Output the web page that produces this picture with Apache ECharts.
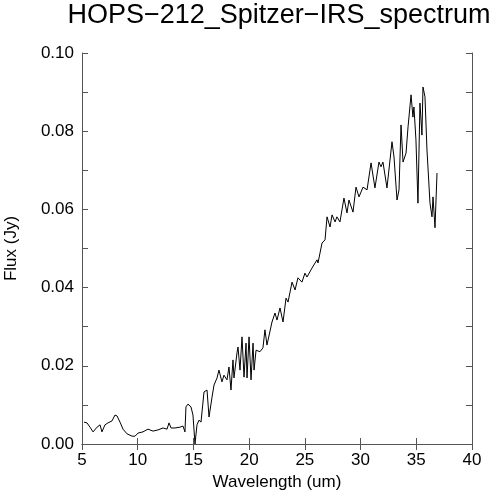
<!DOCTYPE html>
<html>
<head>
<meta charset="utf-8">
<script src="https://cdn.jsdelivr.net/npm/echarts@6/dist/echarts.min.js"></script>
<style>
  html, body { margin: 0; padding: 0; background: #fff; }
  #chart { width: 492px; height: 500px; }
</style>
</head>
<body>
<div id="chart"></div>
<script>
// spectrum: wavelength (um) and flux (Jy)
const wavelength = [
  5.18, 5.45, 5.72, 5.99, 6.35, 6.62, 6.79, 7.06, 7.33, 7.69,
  7.96, 8.14, 8.41, 8.68, 9.04, 9.49, 9.76, 10.03, 10.47, 10.92,
  11.37, 11.82, 12.27, 12.63, 12.81, 12.99, 13.35, 13.79, 14.06, 14.24,
  14.33, 14.51, 14.78, 14.96, 15.14, 15.32, 15.50, 15.68, 15.95, 16.22,
  16.40, 16.67, 16.85, 17.12, 17.29, 17.56, 17.74, 18.01, 18.19, 18.37,
  18.55, 18.64, 18.91, 19.00, 19.18, 19.36, 19.54, 19.72, 19.81, 19.99,
  20.17, 20.35, 20.44, 20.62, 20.97, 21.24, 21.42, 21.60, 22.05, 22.32,
  22.50, 22.77, 23.04, 23.31, 23.49, 23.85, 24.12, 24.38, 24.74, 25.01,
  25.19, 25.64, 26.09, 26.18, 26.54, 26.81, 26.99, 27.26, 27.44, 27.71,
  27.88, 28.15, 28.51, 28.78, 28.96, 29.32, 29.59, 29.86, 30.22, 30.58,
  30.94, 31.29, 31.65, 31.83, 32.01, 32.37, 32.82, 33.00, 33.27, 33.45,
  33.63, 33.81, 34.08, 34.26, 34.53, 34.70, 34.79, 34.97, 35.15, 35.33,
  35.51, 35.60, 35.78, 35.96, 36.23, 36.41, 36.50, 36.68, 36.86
];
const flux = [
  0.0056, 0.0054, 0.0043, 0.0031, 0.0043, 0.0049, 0.0031, 0.0049, 0.0054, 0.0059,
  0.0074, 0.0072, 0.0056, 0.0038, 0.0026, 0.0020, 0.0020, 0.0028, 0.0031, 0.0038,
  0.0033, 0.0036, 0.0041, 0.0038, 0.0054, 0.0041, 0.0041, 0.0043, 0.0046, 0.0031,
  0.0095, 0.0102, 0.0095, 0.0074, 0.0000, 0.0049, 0.0061, 0.0056, 0.0133, 0.0138,
  0.0069, 0.0120, 0.0151, 0.0169, 0.0189, 0.0159, 0.0176, 0.0164, 0.0197, 0.0138,
  0.0215, 0.0169, 0.0233, 0.0248, 0.0189, 0.0274, 0.0171, 0.0258, 0.0169, 0.0274,
  0.0164, 0.0258, 0.0189, 0.0240, 0.0236, 0.0246, 0.0292, 0.0253, 0.0312, 0.0335,
  0.0317, 0.0348, 0.0312, 0.0373, 0.0363, 0.0414, 0.0394, 0.0425, 0.0414, 0.0437,
  0.0427, 0.0450, 0.0471, 0.0463, 0.0514, 0.0522, 0.0581, 0.0555, 0.0586, 0.0568,
  0.0581, 0.0568, 0.0629, 0.0591, 0.0624, 0.0593, 0.0657, 0.0632, 0.0657, 0.0650,
  0.0719, 0.0655, 0.0721, 0.0709, 0.0721, 0.0655, 0.0773, 0.0734, 0.0624, 0.0650,
  0.0816, 0.0721, 0.0744, 0.0811, 0.0893, 0.0836, 0.0862, 0.0778, 0.0616, 0.0872,
  0.0790, 0.0913, 0.0888, 0.0752, 0.0616, 0.0581, 0.0632, 0.0553, 0.0693
];

const chart = echarts.init(document.getElementById('chart'));

const font = 'Liberation Sans';
const axisColor = '#555';

const optionData = {
  backgroundColor: '#fff',
  animation: false,
  title: {
    text: 'HOPS\u2212212_Spitzer\u2212IRS_spectrum',
    left: 274,
    top: -3,
    textAlign: 'center',
    textStyle: { fontFamily: font, fontSize: 27, fontWeight: 'normal', color: '#000' }
  },
  grid: { left: 82, right: 20, top: 53, bottom: 56, outerBoundsMode: 'none', containLabel: false },
  xAxis: [{
    type: 'value',
    min: 5, max: 40, interval: 5,
    name: 'Wavelength (um)',
    nameLocation: 'middle',
    nameGap: 30,
    nameTextStyle: { fontFamily: font, fontSize: 17, color: '#000' },
    axisLine: { show: true, lineStyle: { color: axisColor, width: 1 } },
    axisTick: { show: true, inside: true, length: 6, lineStyle: { color: axisColor } },
    axisLabel: { fontFamily: font, fontSize: 17, color: '#000', margin: 8 },
    splitLine: { show: false }
  }, {
    type: 'value',
    position: 'top',
    min: 5, max: 40, interval: 5,
    axisLine: { show: true, lineStyle: { color: axisColor, width: 1 } },
    axisTick: { show: true, inside: true, length: 6, lineStyle: { color: axisColor } },
    axisLabel: { show: false },
    splitLine: { show: false }
  }],
  yAxis: [{
    type: 'value',
    min: 0, max: 0.1, interval: 0.02,
    name: 'Flux (Jy)',
    nameLocation: 'middle',
    nameGap: 62,
    nameTextStyle: { fontFamily: font, fontSize: 17, color: '#000' },
    axisLine: { show: true, lineStyle: { color: axisColor, width: 1 } },
    axisTick: { show: true, inside: true, length: 6, lineStyle: { color: axisColor } },
    minorTick: { show: true, splitNumber: 2, length: 6, lineStyle: { color: axisColor } },
    axisLabel: {
      fontFamily: font, fontSize: 17, color: '#000', margin: 8,
      formatter: v => v.toFixed(2)
    },
    splitLine: { show: false }
  }, {
    type: 'value',
    position: 'right',
    min: 0, max: 0.1, interval: 0.02,
    axisLine: { show: true, lineStyle: { color: axisColor, width: 1 } },
    axisTick: { show: true, inside: true, length: 6, lineStyle: { color: axisColor } },
    minorTick: { show: true, splitNumber: 2, length: 6, lineStyle: { color: axisColor } },
    axisLabel: { show: false },
    splitLine: { show: false }
  }],
  series: [{
    type: 'line',
    data: wavelength.map((w, i) => [w, flux[i]]),
    showSymbol: false,
    lineStyle: { color: '#000', width: 1 },
    clip: true
  }]
};
chart.setOption(optionData);
</script>
</body>
</html>
